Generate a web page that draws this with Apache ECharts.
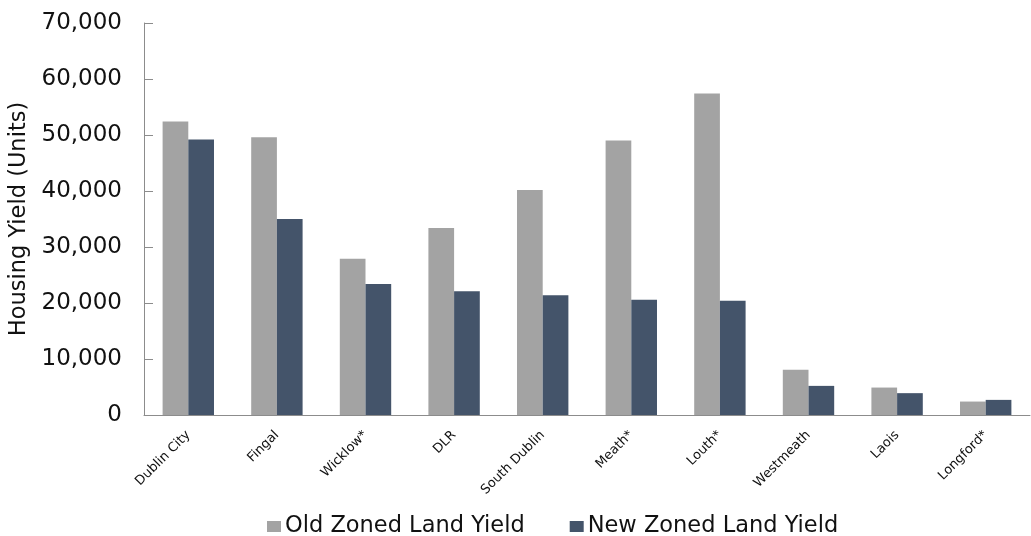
<!DOCTYPE html>
<html><head><meta charset="utf-8">
<script src="https://cdn.jsdelivr.net/npm/echarts@6/dist/echarts.min.js"></script>
<style>html,body{margin:0;padding:0;background:#fff}#c{width:1031px;height:536px}</style>
</head><body><div id="c"></div>
<script>
const categories = ['Dublin City','Fingal','Wicklow*','DLR','South Dublin','Meath*','Louth*','Westmeath','Laois','Longford*'];
const oldYield = [52400, 49600, 27900, 33400, 40200, 49000, 57400, 8100, 4900, 2400];
const newYield = [49200, 35000, 23400, 22100, 21400, 20600, 20400, 5200, 3900, 2700];
const seriesNames = ['Old Zoned Land Yield','New Zoned Land Yield'];
const yTicks = {min: 0, max: 70000, interval: 10000};

const chart = echarts.init(document.getElementById('c'));
chart.setOption({
  animation: false,
  textStyle: {fontFamily: 'DejaVu Sans'},
  grid: {left: 144, top: 23, right: 1, bottom: 121, containLabel: false, outerBoundsMode: 'none'},
  legend: {
    top: 510, left: 262, itemWidth: 14, itemHeight: 11, itemGap: 45,
    icon: 'rect',
    textStyle: {fontSize: 22.5, color: '#111', padding: [0, 0, 0, -1]},
    data: seriesNames
  },
  xAxis: {
    type: 'category', data: categories,
    axisLine: {lineStyle: {color: '#8c8c8c', width: 1}},
    axisTick: {show: false},
    axisLabel: {rotate: 45, fontSize: 13, color: '#111', margin: 18, interval: 0}
  },
  yAxis: {
    type: 'value', min: yTicks.min, max: yTicks.max, interval: yTicks.interval,
    name: 'Housing Yield (Units)', nameLocation: 'middle', nameGap: 112,
    nameTextStyle: {fontSize: 22.5, color: '#111'},
    axisLine: {show: true, lineStyle: {color: '#8c8c8c', width: 1}},
    axisTick: {show: true, inside: true, length: 9, lineStyle: {color: '#8c8c8c'}},
    splitLine: {show: false},
    axisLabel: {fontSize: 23, color: '#111', margin: 22,
      formatter: v => v.toLocaleString('en-US')}
  },
  series: [
    {name: seriesNames[0], type: 'bar', data: oldYield, barGap: '0%', barCategoryGap: '42%',
      itemStyle: {color: '#a3a3a3'}},
    {name: seriesNames[1], type: 'bar', data: newYield,
      itemStyle: {color: '#44546a'}}
  ]
});
</script></body></html>
